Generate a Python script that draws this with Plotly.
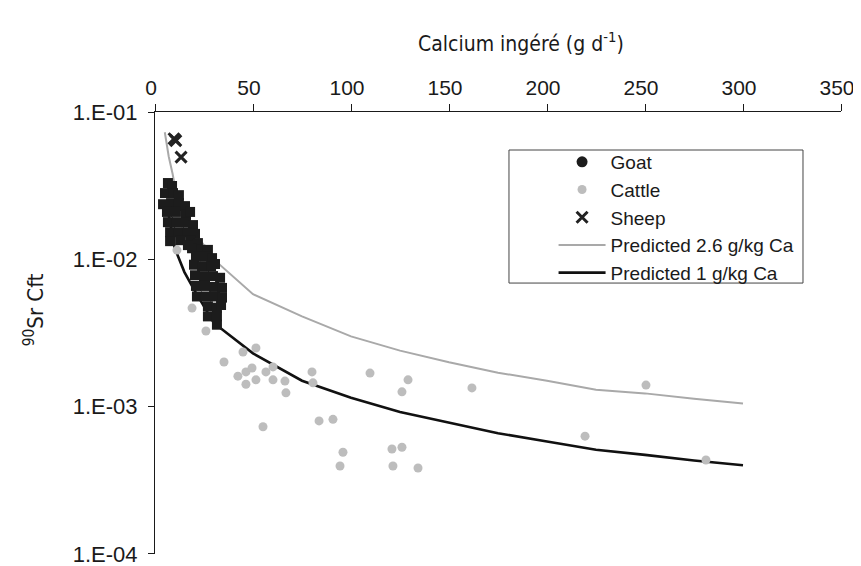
import plotly.graph_objects as go

# ---------------- data ----------------
goat_x = [6.6, 8.7, 5.1, 9.2, 12.2, 4.1, 8.2, 12.2, 15.3, 6.1, 10.7, 15.8, 17.9,
          6.6, 11.2, 15.8, 19.4, 7.7, 12.2, 16.8, 20.4, 7.7, 12.8, 17.9, 21.9,
          18.9, 23.5, 27.0, 16.8, 20.9, 25.5, 29.1, 19.9, 24.0, 28.6, 30.6,
          20.4, 25.0, 29.6, 33.2, 20.9, 25.5, 30.1, 34.2, 21.4, 26.0, 30.6, 34.2,
          27.0, 31.6, 33.7, 27.0, 31.6, 31.6]
goat_y = [0.0330, 0.0315, 0.0282, 0.0282, 0.0273, 0.0237, 0.0241, 0.0241, 0.0230,
          0.0210, 0.0210, 0.0203, 0.0210, 0.0179, 0.0179, 0.0179, 0.0171, 0.0153,
          0.0153, 0.0153, 0.0149, 0.0133, 0.0135, 0.0135, 0.0129, 0.0119, 0.0116,
          0.0116, 0.0125, 0.0105, 0.0105, 0.0102, 0.0092, 0.0090, 0.0090, 0.0093,
          0.0078, 0.0077, 0.0077, 0.0075, 0.0066, 0.0066, 0.0065, 0.0064, 0.0056,
          0.0056, 0.0056, 0.0055, 0.0048, 0.0047, 0.0049, 0.0041, 0.0041, 0.0036]

cattle_x = [11.2, 18.9, 26.0, 44.9, 51.5, 35.2, 42.3, 46.4, 49.5, 46.4, 51.5, 56.6,
            60.2, 60.2, 66.3, 66.8, 80.1, 80.6, 55.1, 83.7, 90.8, 95.9, 94.4,
            109.7, 129.1, 126.0, 161.7, 120.9, 126.0, 121.4, 134.2, 250.5, 219.4, 281.1]
cattle_y = [0.01156, 0.00467, 0.00326, 0.00235, 0.0025, 0.00201, 0.00161, 0.00172,
            0.00183, 0.00142, 0.00152, 0.00172, 0.00186, 0.00152, 0.00149, 0.00124,
            0.00172, 0.00145, 0.00073, 0.0008, 0.00082, 0.00049, 0.000395, 0.00169,
            0.00152, 0.00126, 0.00134, 0.000515, 0.00053, 0.000395, 0.000383,
            0.0014, 0.00063, 0.000434]

sheep_x = [9.7, 10.6, 13.3]
sheep_y = [0.066, 0.064, 0.0495]

pred26_x = [5, 7, 9, 10, 15, 20, 30, 50, 75, 100, 125, 150, 175, 200, 225, 250, 275, 300]
pred26_y = [0.073, 0.05, 0.038, 0.032, 0.021, 0.0155, 0.0100, 0.0058, 0.0041, 0.0030,
            0.0024, 0.0020, 0.0017, 0.0015, 0.0013, 0.00123, 0.00113, 0.00105]

pred1_x = [7, 10, 15, 20, 30, 50, 75, 100, 125, 150, 175, 200, 225, 250, 275, 300]
pred1_y = [0.02, 0.012, 0.0082, 0.0062, 0.0037, 0.0023, 0.0015, 0.00115, 0.00092,
           0.00078, 0.00066, 0.00058, 0.00051, 0.00047, 0.00043, 0.00040]

x_ticks = [0, 50, 100, 150, 200, 250, 300, 350]
y_tickvals = [1e-4, 1e-3, 1e-2, 1e-1]
y_ticktext = ["1.E-04", "1.E-03", "1.E-02", "1.E-01"]

# ---------------- figure ----------------
FONT = "Liberation Sans, Arial, sans-serif"
TFONT = "Liberation Sans Narrow, DejaVu Sans Condensed, Roboto Condensed, Liberation Sans, sans-serif"

fig = go.Figure()

fig.add_trace(go.Scatter(x=pred26_x, y=pred26_y, mode="lines", name="Predicted 2.6 g/kg Ca",
                         line=dict(color="#a9a9a9", width=2), legendrank=4))
fig.add_trace(go.Scatter(x=pred1_x, y=pred1_y, mode="lines", name="Predicted 1 g/kg Ca",
                         line=dict(color="#111111", width=2.6), legendrank=5))
fig.add_trace(go.Scatter(x=cattle_x, y=cattle_y, mode="markers", name="Cattle",
                         marker=dict(symbol="circle", size=9, color="#bdbdbd"), legendrank=2))
fig.add_trace(go.Scatter(x=goat_x, y=goat_y, mode="markers", name="Goat", showlegend=False,
                         marker=dict(symbol="square", size=10, color="#1c1c1c")))
fig.add_trace(go.Scatter(x=[None], y=[None], mode="markers", name="Goat",
                         marker=dict(symbol="circle", size=11, color="#1c1c1c"), legendrank=1))
fig.add_trace(go.Scatter(x=sheep_x, y=sheep_y, mode="markers", name="Sheep",
                         marker=dict(symbol="x-thin", size=11, color="#222222",
                                     line=dict(color="#222222", width=3)), legendrank=3))

fig.update_layout(
    width=861, height=566,
    margin=dict(l=147, r=28, t=104, b=20, autoexpand=False),
    paper_bgcolor="white", plot_bgcolor="white",
    font=dict(family=FONT, size=21, color="#1a1a1a"),
    showlegend=True,
    legend=dict(x=0.581, y=0.93, xanchor="left", yanchor="top",
                bgcolor="rgba(0,0,0,0)", borderwidth=0, itemwidth=47,
                font=dict(family=FONT, size=19, color="#1a1a1a"),
                tracegroupgap=0),
    xaxis=dict(range=[0, 350], side="top", tickvals=x_ticks, automargin=False,
               showline=True, linecolor="#1a1a1a", linewidth=1.2,
               ticks="outside", ticklen=7, tickcolor="#1a1a1a", tickwidth=1.2,
               ticklabelstandoff=1, ticklabelshift=-4, ticklabeloverflow="allow",
               showgrid=False, zeroline=False,
               tickfont=dict(family=FONT, size=21, color="#1a1a1a")),
    yaxis=dict(type="log", range=[-4.001, -0.999], tickvals=y_tickvals, ticktext=y_ticktext,
               automargin=False,
               showline=True, linecolor="#1a1a1a", linewidth=1.2,
               ticks="outside", ticklen=6, tickcolor="#1a1a1a", tickwidth=1.2,
               ticklabelstandoff=6, ticklabeloverflow="allow",
               showgrid=False, zeroline=False,
               tickfont=dict(family=FONT, size=22, color="#1a1a1a")),
    shapes=[dict(type="rect", xref="paper", yref="paper",
                 x0=0.516, x1=0.9446, y0=0.613, y1=0.914,
                 line=dict(color="#444444", width=1), fillcolor="rgba(0,0,0,0)")],
    annotations=[
        dict(text="Calcium ingéré (g d<sup>-1</sup>)", xref="paper", yref="paper",
             x=0.533, y=1.158, xanchor="center", yanchor="middle", showarrow=False,
             font=dict(family=TFONT, size=21, color="#1a1a1a")),
        dict(text="<sup>90</sup>Sr Cft", xref="paper", yref="paper",
             x=-0.176, y=0.552, xanchor="center", yanchor="middle", showarrow=False,
             textangle=-90, font=dict(family=TFONT, size=22, color="#1a1a1a")),
    ],
)

fig.write_html("out.html")
